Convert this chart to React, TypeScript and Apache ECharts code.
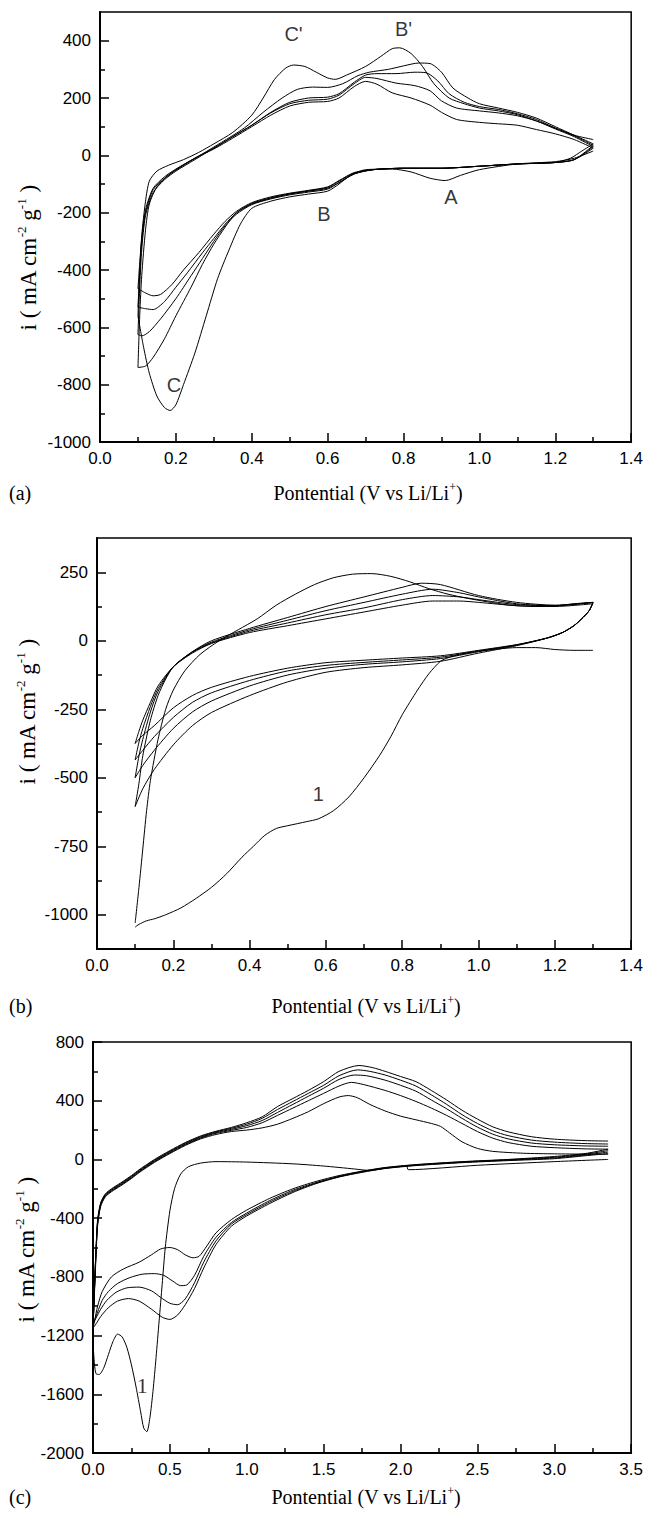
import React, { useEffect, useRef } from "react";
import * as echarts from "echarts";

type P = [number, number];

// ---------- Panel (a) ----------
const aTicksX = [0, 0.2, 0.4, 0.6, 0.8, 1.0, 1.2, 1.4];
const aMinorX = [0.1, 0.3, 0.5, 0.7, 0.9, 1.1, 1.3];
const aTicksY = [-1000, -800, -600, -400, -200, 0, 200, 400];
const aMinorY = [-900, -700, -500, -300, -100, 100, 300];

const aCath1: P[] = [[1.3,15],[1.25,-10],[1.2,-22],[1.1,-30],[1.0,-50],[0.95,-70],[0.91,-88],[0.87,-80],[0.82,-58],[0.77,-48],[0.7,-50],[0.66,-70],[0.63,-100],[0.6,-125],[0.55,-135],[0.5,-145],[0.45,-160],[0.4,-185],[0.37,-240],[0.34,-330],[0.31,-430],[0.28,-560],[0.25,-690],[0.22,-800],[0.2,-870],[0.185,-890],[0.17,-880],[0.15,-840],[0.13,-760],[0.115,-670],[0.1,-560]];
const aAn1: P[] = [[0.1,-560],[0.105,-400],[0.11,-280],[0.12,-160],[0.13,-90],[0.15,-55],[0.18,-35],[0.22,-15],[0.26,10],[0.3,40],[0.35,80],[0.4,140],[0.43,200],[0.46,265],[0.49,305],[0.51,315],[0.54,310],[0.57,290],[0.6,270],[0.62,265],[0.65,280],[0.7,310],[0.74,345],[0.77,372],[0.79,375],[0.82,355],[0.85,310],[0.88,250],[0.92,200],[0.96,180],[1.0,165],[1.05,155],[1.1,142],[1.15,120],[1.2,95],[1.25,70],[1.3,55]];
const aCath2: P[] = [[1.3,40],[1.27,15],[1.24,-10],[1.2,-25],[1.1,-30],[1.0,-38],[0.9,-45],[0.8,-45],[0.72,-50],[0.67,-65],[0.63,-95],[0.6,-115],[0.55,-125],[0.5,-135],[0.45,-150],[0.4,-170],[0.36,-200],[0.33,-250],[0.3,-310],[0.27,-380],[0.24,-460],[0.2,-560],[0.17,-640],[0.14,-705],[0.12,-735],[0.1,-740]];
const aAn2: P[] = [[0.1,-740],[0.105,-550],[0.11,-420],[0.12,-260],[0.13,-170],[0.15,-110],[0.18,-70],[0.22,-35],[0.27,5],[0.32,45],[0.38,95],[0.43,150],[0.48,200],[0.52,230],[0.56,238],[0.6,237],[0.64,250],[0.68,278],[0.71,290],[0.76,300],[0.8,312],[0.84,322],[0.87,320],[0.9,290],[0.93,235],[0.97,200],[1.0,180],[1.05,165],[1.1,150],[1.15,130],[1.2,100],[1.25,70],[1.3,40]];
const aCath3: P[] = [[1.3,35],[1.25,-15],[1.2,-25],[1.1,-30],[1.0,-38],[0.9,-45],[0.8,-45],[0.72,-50],[0.67,-65],[0.63,-95],[0.6,-118],[0.55,-128],[0.5,-138],[0.45,-152],[0.4,-172],[0.36,-205],[0.33,-245],[0.3,-300],[0.27,-360],[0.24,-420],[0.2,-500],[0.16,-570],[0.13,-615],[0.11,-630],[0.1,-625]];
const aAn3: P[] = [[0.1,-625],[0.105,-450],[0.11,-330],[0.12,-210],[0.14,-130],[0.17,-85],[0.2,-55],[0.25,-15],[0.3,25],[0.35,65],[0.4,105],[0.45,150],[0.5,185],[0.55,200],[0.6,203],[0.63,215],[0.67,255],[0.7,280],[0.73,285],[0.78,285],[0.83,290],[0.86,288],[0.89,260],[0.92,215],[0.96,185],[1.0,170],[1.05,160],[1.1,145],[1.15,125],[1.2,95],[1.25,68],[1.3,35]];
const aCath4: P[] = [[1.3,30],[1.25,-15],[1.2,-25],[1.1,-30],[1.0,-38],[0.9,-45],[0.8,-45],[0.72,-50],[0.67,-62],[0.63,-90],[0.6,-112],[0.55,-124],[0.5,-134],[0.45,-148],[0.4,-168],[0.36,-200],[0.33,-240],[0.3,-290],[0.27,-340],[0.23,-410],[0.2,-460],[0.17,-510],[0.14,-538],[0.12,-535],[0.1,-530]];
const aAn4: P[] = [[0.1,-530],[0.105,-400],[0.11,-300],[0.12,-200],[0.14,-120],[0.17,-80],[0.2,-50],[0.25,-10],[0.3,25],[0.35,65],[0.4,105],[0.45,148],[0.5,180],[0.55,192],[0.6,196],[0.63,210],[0.67,250],[0.7,272],[0.73,268],[0.78,252],[0.83,243],[0.87,225],[0.9,190],[0.94,165],[1.0,155],[1.05,148],[1.1,138],[1.15,120],[1.2,92],[1.25,65],[1.3,30]];
const aCath5: P[] = [[1.3,25],[1.25,-15],[1.2,-25],[1.1,-30],[1.0,-38],[0.9,-45],[0.8,-45],[0.72,-50],[0.67,-60],[0.63,-88],[0.6,-110],[0.55,-122],[0.5,-132],[0.45,-145],[0.4,-165],[0.36,-195],[0.33,-230],[0.3,-275],[0.26,-340],[0.22,-400],[0.19,-450],[0.16,-485],[0.14,-490],[0.12,-480],[0.1,-465]];
const aAn5: P[] = [[0.1,-465],[0.105,-370],[0.11,-290],[0.12,-190],[0.14,-115],[0.17,-75],[0.2,-48],[0.25,-10],[0.3,22],[0.35,60],[0.4,100],[0.45,140],[0.5,172],[0.55,185],[0.6,188],[0.63,200],[0.67,240],[0.7,258],[0.73,248],[0.77,218],[0.82,200],[0.87,175],[0.9,150],[0.94,125],[1.0,115],[1.05,110],[1.1,105],[1.15,90],[1.2,75],[1.25,55],[1.3,25]];
const aLabels = [
  { name: "C'", value: [0.51, 425] },
  { name: "B'", value: [0.8, 440] },
  { name: "A", value: [0.925, -145] },
  { name: "B", value: [0.59, -205] },
  { name: "C", value: [0.195, -800] },
];

// ---------- Panel (b) ----------
const bTicksX = aTicksX;
const bMinorX = aMinorX;
const bTicksY = [-1000, -750, -500, -250, 0, 250];
const bMinorY = [-875, -625, -375, -125, 125];

const bCath1: P[] = [[1.3,-35],[1.25,-35],[1.2,-32],[1.15,-25],[1.1,-25],[1.05,-30],[1.0,-38],[0.95,-50],[0.92,-62],[0.9,-75],[0.87,-120],[0.84,-180],[0.8,-270],[0.77,-350],[0.74,-420],[0.7,-500],[0.66,-570],[0.62,-620],[0.58,-650],[0.55,-660],[0.5,-675],[0.47,-685],[0.44,-710],[0.41,-750],[0.38,-790],[0.34,-850],[0.3,-900],[0.26,-940],[0.22,-975],[0.18,-1000],[0.15,-1015],[0.13,-1022],[0.11,-1035],[0.1,-1045]];
const bAn1: P[] = [[0.1,-1030],[0.11,-900],[0.12,-760],[0.13,-620],[0.14,-510],[0.16,-360],[0.18,-250],[0.2,-180],[0.23,-110],[0.27,-50],[0.32,0],[0.37,40],[0.42,80],[0.47,130],[0.52,170],[0.57,205],[0.62,230],[0.67,243],[0.72,245],[0.77,235],[0.82,215],[0.87,190],[0.92,170],[0.97,155],[1.02,143],[1.08,130],[1.15,125],[1.2,127],[1.25,135],[1.3,140]];
const bCath2: P[] = [[1.3,140],[1.29,110],[1.27,80],[1.25,55],[1.22,30],[1.18,10],[1.1,-18],[1.0,-45],[0.9,-75],[0.8,-88],[0.7,-98],[0.6,-115],[0.5,-150],[0.4,-200],[0.3,-262],[0.25,-310],[0.2,-380],[0.15,-470],[0.12,-540],[0.1,-605]];
const bAn2: P[] = [[0.1,-605],[0.11,-520],[0.12,-420],[0.14,-290],[0.16,-200],[0.18,-140],[0.2,-95],[0.25,-40],[0.3,0],[0.4,45],[0.5,85],[0.6,125],[0.7,160],[0.8,195],[0.85,210],[0.9,205],[1.0,165],[1.1,140],[1.2,130],[1.3,140]];
const bCath3: P[] = [[1.3,140],[1.29,110],[1.27,80],[1.25,55],[1.22,30],[1.18,10],[1.1,-16],[1.0,-40],[0.9,-65],[0.8,-77],[0.7,-86],[0.6,-100],[0.5,-125],[0.4,-165],[0.3,-220],[0.25,-260],[0.2,-320],[0.15,-400],[0.12,-455],[0.1,-500]];
const bAn3: P[] = [[0.1,-500],[0.11,-420],[0.12,-360],[0.14,-260],[0.16,-185],[0.2,-95],[0.25,-40],[0.3,-5],[0.4,40],[0.5,75],[0.6,110],[0.7,140],[0.8,170],[0.88,188],[0.95,175],[1.0,160],[1.1,135],[1.2,128],[1.3,140]];
const bCath4: P[] = [[1.3,140],[1.29,110],[1.27,80],[1.25,55],[1.22,30],[1.18,10],[1.1,-15],[1.0,-37],[0.9,-60],[0.8,-70],[0.7,-79],[0.6,-90],[0.5,-110],[0.4,-145],[0.3,-190],[0.25,-225],[0.2,-280],[0.15,-350],[0.12,-400],[0.1,-435]];
const bAn4: P[] = [[0.1,-435],[0.11,-370],[0.12,-320],[0.14,-240],[0.16,-175],[0.2,-95],[0.25,-42],[0.3,-8],[0.4,35],[0.5,65],[0.6,95],[0.7,120],[0.8,150],[0.88,165],[0.95,160],[1.0,150],[1.1,132],[1.2,128],[1.3,140]];
const bCath5: P[] = [[1.3,140],[1.29,110],[1.27,80],[1.25,55],[1.22,30],[1.18,10],[1.1,-14],[1.0,-35],[0.9,-55],[0.8,-63],[0.7,-71],[0.6,-80],[0.5,-100],[0.4,-130],[0.3,-170],[0.25,-200],[0.2,-245],[0.15,-310],[0.12,-345],[0.1,-375]];
const bAn5: P[] = [[0.1,-375],[0.11,-330],[0.12,-290],[0.14,-225],[0.16,-165],[0.2,-95],[0.25,-45],[0.3,-10],[0.4,30],[0.5,55],[0.6,80],[0.7,105],[0.8,130],[0.88,145],[0.95,145],[1.0,140],[1.1,128],[1.2,125],[1.3,135]];
const bLabels = [{ name: "1", value: [0.58, -560] }];

// ---------- Panel (c) ----------
const cTicksX = [0, 0.5, 1.0, 1.5, 2.0, 2.5, 3.0, 3.5];
const cMinorX = [0.25, 0.75, 1.25, 1.75, 2.25, 2.75, 3.25];
const cTicksY = [-2000, -1600, -1200, -800, -400, 0, 400, 800];
const cMinorY = [-1800, -1400, -1000, -600, -200, 200, 600];

const cCath1: P[] = [[3.35,0],[3.0,-15],[2.5,-40],[2.05,-70],[2.04,-45],[1.9,-60],[1.8,-75],[1.7,-65],[1.5,-45],[1.3,-30],[1.0,-18],[0.8,-15],[0.7,-25],[0.62,-50],[0.57,-100],[0.53,-200],[0.5,-350],[0.47,-600],[0.45,-850],[0.43,-1100],[0.41,-1350],[0.39,-1580],[0.37,-1760],[0.35,-1855],[0.33,-1830],[0.31,-1720],[0.28,-1550],[0.25,-1400],[0.22,-1280],[0.19,-1210],[0.16,-1190],[0.13,-1240],[0.1,-1330],[0.07,-1420],[0.04,-1465],[0.02,-1460],[0.01,-1400],[0.0,-1250]];
const cCath2: P[] = [[3.35,70],[3.2,40],[3.0,20],[2.7,0],[2.4,-15],[2.1,-35],[1.9,-55],[1.75,-80],[1.6,-110],[1.45,-150],[1.3,-200],[1.15,-265],[1.0,-345],[0.9,-410],[0.8,-500],[0.74,-590],[0.69,-660],[0.65,-670],[0.6,-650],[0.55,-615],[0.5,-600],[0.44,-610],[0.38,-650],[0.3,-700],[0.2,-745],[0.12,-800],[0.06,-900],[0.03,-1000],[0.01,-1100],[0.0,-1150]];
const cCath3: P[] = [[3.35,60],[3.2,35],[3.0,15],[2.7,-2],[2.4,-17],[2.1,-37],[1.9,-57],[1.75,-82],[1.6,-115],[1.45,-158],[1.3,-210],[1.15,-280],[1.0,-365],[0.9,-430],[0.8,-530],[0.72,-660],[0.66,-790],[0.61,-855],[0.57,-860],[0.52,-830],[0.46,-790],[0.4,-778],[0.32,-782],[0.24,-805],[0.16,-845],[0.1,-900],[0.06,-960],[0.03,-1040],[0.0,-1130]];
const cCath4: P[] = [[3.35,50],[3.2,30],[3.0,10],[2.7,-5],[2.4,-20],[2.1,-40],[1.9,-60],[1.75,-85],[1.6,-118],[1.45,-162],[1.3,-218],[1.15,-290],[1.0,-375],[0.9,-440],[0.8,-555],[0.72,-700],[0.66,-840],[0.6,-950],[0.55,-990],[0.5,-980],[0.44,-940],[0.38,-895],[0.3,-870],[0.22,-875],[0.15,-905],[0.09,-960],[0.05,-1020],[0.02,-1080],[0.0,-1120]];
const cCath5: P[] = [[3.35,40],[3.2,25],[3.0,5],[2.7,-8],[2.4,-22],[2.1,-42],[1.9,-62],[1.75,-88],[1.6,-120],[1.45,-165],[1.3,-225],[1.15,-300],[1.0,-385],[0.9,-455],[0.8,-580],[0.72,-740],[0.66,-880],[0.6,-990],[0.55,-1060],[0.5,-1090],[0.45,-1075],[0.38,-1020],[0.3,-965],[0.23,-948],[0.16,-965],[0.1,-1010],[0.05,-1070],[0.02,-1120],[0.0,-1150]];
const cAn1: P[] = [[0.0,-1150],[0.01,-900],[0.02,-650],[0.03,-450],[0.05,-320],[0.08,-255],[0.12,-220],[0.18,-180],[0.25,-130],[0.3,-90],[0.4,-20],[0.5,40],[0.6,95],[0.7,140],[0.8,170],[0.9,190],[1.0,200],[1.1,215],[1.2,240],[1.3,280],[1.4,325],[1.5,380],[1.6,425],[1.66,435],[1.72,420],[1.8,375],[1.9,330],[2.0,295],[2.1,270],[2.2,245],[2.26,225],[2.32,180],[2.4,120],[2.5,75],[2.6,55],[2.8,42],[3.0,38],[3.2,36],[3.35,35]];
const cAn2: P[] = [[0.0,-1150],[0.01,-880],[0.02,-630],[0.03,-440],[0.05,-310],[0.08,-250],[0.12,-215],[0.18,-175],[0.25,-125],[0.3,-85],[0.4,-15],[0.5,45],[0.6,100],[0.7,145],[0.8,178],[0.9,198],[1.0,218],[1.1,250],[1.2,300],[1.3,350],[1.4,400],[1.5,450],[1.6,500],[1.68,525],[1.76,510],[1.9,470],[2.0,435],[2.1,395],[2.2,350],[2.3,300],[2.4,245],[2.5,190],[2.6,145],[2.7,115],[2.85,90],[3.0,80],[3.2,72],[3.35,70]];
const cAn3: P[] = [[0.0,-1150],[0.01,-870],[0.02,-620],[0.03,-430],[0.05,-305],[0.08,-245],[0.12,-210],[0.18,-170],[0.25,-120],[0.3,-80],[0.4,-10],[0.5,50],[0.6,105],[0.7,150],[0.8,183],[0.9,205],[1.0,230],[1.1,265],[1.2,320],[1.3,375],[1.4,430],[1.5,485],[1.6,545],[1.7,575],[1.78,570],[1.9,540],[2.0,505],[2.1,465],[2.2,405],[2.3,345],[2.4,280],[2.5,220],[2.6,172],[2.7,140],[2.85,112],[3.0,100],[3.2,92],[3.35,90]];
const cAn4: P[] = [[0.0,-1150],[0.01,-860],[0.02,-610],[0.03,-420],[0.05,-300],[0.08,-240],[0.12,-205],[0.18,-165],[0.25,-115],[0.3,-75],[0.4,-5],[0.5,55],[0.6,110],[0.7,155],[0.8,188],[0.9,212],[1.0,240],[1.1,280],[1.2,340],[1.3,395],[1.4,450],[1.5,505],[1.6,570],[1.72,610],[1.8,600],[1.9,575],[2.0,540],[2.1,500],[2.2,440],[2.3,375],[2.4,305],[2.5,245],[2.6,195],[2.7,162],[2.85,132],[3.0,118],[3.2,108],[3.35,105]];
const cAn5: P[] = [[0.0,-1150],[0.01,-850],[0.02,-600],[0.03,-410],[0.05,-295],[0.08,-235],[0.12,-200],[0.18,-160],[0.25,-110],[0.3,-70],[0.4,0],[0.5,60],[0.6,115],[0.7,160],[0.8,192],[0.9,218],[1.0,250],[1.1,290],[1.2,360],[1.3,415],[1.4,470],[1.5,530],[1.6,600],[1.73,640],[1.82,625],[1.9,600],[2.0,565],[2.1,530],[2.2,470],[2.3,405],[2.4,335],[2.5,275],[2.6,222],[2.7,188],[2.85,155],[3.0,138],[3.2,128],[3.35,125]];
const cLabels = [{ name: "1", value: [0.32, -1540] }];

const axisFont = "'Liberation Sans', Arial, sans-serif";
const serif = "'Liberation Serif', 'Times New Roman', serif";
const tickFont = 17;

function mainX(gridIndex: number, max: number, ticks: number[]) {
  return {
    type: "value", gridIndex, min: 0, max, position: "bottom",
    axisLine: { show: true, onZero: false, lineStyle: { color: "#000", width: 2 } },
    axisTick: { show: true, inside: true, length: 9, customValues: ticks, lineStyle: { color: "#000", width: 1.5 } },
    axisLabel: { show: true, customValues: ticks, margin: 8, color: "#000", fontSize: tickFont, fontFamily: axisFont, formatter: (v: number) => v.toFixed(1) },
    splitLine: { show: false },
  };
}
function minorX(gridIndex: number, max: number, ticks: number[]) {
  return {
    type: "value", gridIndex, min: 0, max, position: "bottom",
    axisLine: { show: false, onZero: false },
    axisTick: { show: true, inside: true, length: 5, customValues: ticks, lineStyle: { color: "#000", width: 1.5 } },
    axisLabel: { show: false },
    splitLine: { show: false },
  };
}
function mainY(gridIndex: number, min: number, max: number, ticks: number[]) {
  return {
    type: "value", gridIndex, min, max, position: "left",
    axisLine: { show: true, onZero: false, lineStyle: { color: "#000", width: 2 } },
    axisTick: { show: true, inside: true, length: 9, customValues: ticks, lineStyle: { color: "#000", width: 1.5 } },
    axisLabel: { show: true, customValues: ticks, margin: 9, color: "#000", fontSize: tickFont, fontFamily: axisFont, formatter: (v: number) => String(v) },
    splitLine: { show: false },
  };
}
function minorY(gridIndex: number, min: number, max: number, ticks: number[]) {
  return {
    type: "value", gridIndex, min, max, position: "left",
    axisLine: { show: false, onZero: false },
    axisTick: { show: true, inside: true, length: 5, customValues: ticks, lineStyle: { color: "#000", width: 1.5 } },
    axisLabel: { show: false },
    splitLine: { show: false },
  };
}

function curve(data: P[], idx: number) {
  return {
    type: "line", data, xAxisIndex: idx, yAxisIndex: idx, showSymbol: false, symbol: "none",
    smooth: 0.25, lineStyle: { color: "#000", width: 1 }, silent: true,
  };
}
function labels(data: any[], idx: number, family: string, size: number) {
  return {
    type: "scatter", data, xAxisIndex: idx, yAxisIndex: idx, symbolSize: 0, silent: true,
    label: { show: true, position: "inside", formatter: (p: any) => p.name, color: "#000", fontSize: size, fontFamily: family },
  };
}

function yTitle(x: number, y: number) {
  return {
    type: "text", x, y, rotation: Math.PI / 2,
    style: {
      text: "i ( mA cm{sup|-2} g{sup|-1} )",
      fontFamily: serif, fontSize: 23, fill: "#000", align: "center", verticalAlign: "middle",
      rich: { sup: { fontFamily: serif, fontSize: 13, fill: "#000", padding: [0, 0, 14, 0] } },
    },
  };
}
function xTitle(x: number, y: number) {
  return {
    type: "text", x, y,
    style: {
      text: "Pontential (V vs Li/Li{sup|+})",
      fontFamily: serif, fontSize: 20, fill: "#000", align: "center", verticalAlign: "middle",
      rich: { sup: { fontFamily: serif, fontSize: 12, fill: "#000", padding: [0, 0, 12, 0] } },
    },
  };
}
function panelTag(text: string, y: number) {
  return { type: "text", x: 9, y, style: { text, fontFamily: serif, fontSize: 20, fill: "#000", align: "left", verticalAlign: "middle" } };
}

export default function App() {
  const ref = useRef<HTMLDivElement>(null);
  useEffect(() => {
    if (!ref.current) return;
    const chart = echarts.init(ref.current, undefined, { renderer: "svg" });
    const gridStyle = { show: true, borderColor: "#000", borderWidth: 1.5, backgroundColor: "transparent", containLabel: false };
    chart.setOption({
      animation: false,
      backgroundColor: "#fff",
      grid: [
        { ...gridStyle, left: 100, top: 12, width: 535, height: 430 },
        { ...gridStyle, left: 97, top: 538, width: 536, height: 411 },
        { ...gridStyle, left: 93, top: 1042, width: 540, height: 411 },
      ],
      xAxis: [
        mainX(0, 1.4, aTicksX), mainX(1, 1.4, bTicksX), mainX(2, 3.5, cTicksX),
        minorX(0, 1.4, aMinorX), minorX(1, 1.4, bMinorX), minorX(2, 3.5, cMinorX),
      ],
      yAxis: [
        mainY(0, -1000, 500, aTicksY), mainY(1, -1125, 375, bTicksY), mainY(2, -2000, 800, cTicksY),
        minorY(0, -1000, 500, aMinorY), minorY(1, -1125, 375, bMinorY), minorY(2, -2000, 800, cMinorY),
      ],
      series: [
        ...[aCath1, aAn1, aCath2, aAn2, aCath3, aAn3, aCath4, aAn4, aCath5, aAn5].map((d) => curve(d, 0)),
        ...[bCath1, bAn1, bCath2, bAn2, bCath3, bAn3, bCath4, bAn4, bCath5, bAn5].map((d) => curve(d, 1)),
        ...[cCath1, cCath2, cCath3, cCath4, cCath5, cAn1, cAn2, cAn3, cAn4, cAn5].map((d) => curve(d, 2)),
        labels(aLabels, 0, axisFont, 20),
        labels(bLabels, 1, axisFont, 20),
        labels(cLabels, 2, serif, 22),
      ],
      graphic: [
        yTitle(28, 258), yTitle(27, 712), yTitle(26, 1250),
        xTitle(368, 493), xTitle(366, 1006), xTitle(366, 1497),
        panelTag("(a)", 493), panelTag("(b)", 1006), panelTag("(c)", 1497),
      ],
    });
    return () => chart.dispose();
  }, []);
  return <div ref={ref} style={{ position: "fixed", left: 0, top: 0, width: 646, height: 1516 }} />;
}
